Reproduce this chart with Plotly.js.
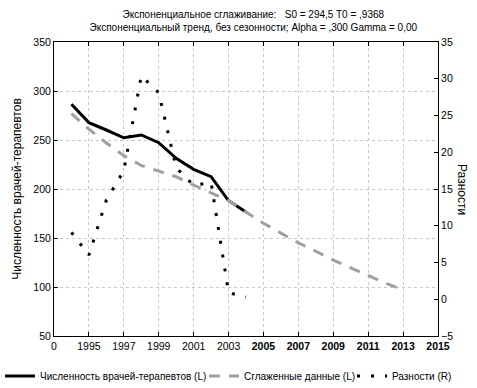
<!DOCTYPE html>
<html>
<head>
<meta charset="utf-8">
<script src="https://cdn.plot.ly/plotly-3.0.1.min.js"></script>
<style>html,body{margin:0;padding:0;background:#fff;}#chart{width:477px;height:388px;}</style>
</head>
<body>
<div id="chart"></div>
<script>
// Observed years and values
const obsYears = [1994, 1995, 1996, 1997, 1998, 1999, 2000, 2001, 2002, 2003, 2004];
const therapists = [286.4, 267.7, 260.2, 252.3, 255.1, 247.2, 231.3, 220.1, 212.6, 188.0, 176.5];
// Smoothed data (incl. forecast)
const smoothYears = [1994, 1995, 1996, 1997, 1998, 1999, 2000, 2001, 2002, 2003, 2004,
                     2005, 2006, 2007, 2008, 2009, 2010, 2011, 2012, 2013];
const smoothed = [277.0, 261.0, 247.0, 234.0, 224.0, 218.5, 212.5, 204.0, 196.0, 188.0, 176.5,
                  165.0, 155.0, 145.0, 136.5, 127.5, 119.5, 111.5, 104.0, 97.0];
// Residuals (right axis)
const residuals = [9.1, 6.0, 13.5, 17.5, 30.4, 28.1, 17.9, 15.5, 15.9, 0.9, 0.3];
// Tick labels
const xTickVals = [1993, 1995, 1997, 1999, 2001, 2003, 2005, 2007, 2009, 2011, 2013, 2015];
const xTickLabels = ['0', '1995', '1997', '1999', '2001', '2003', '2005', '2007', '2009', '2011', '2013', '2015'];
const boldLabels = ['2005', '2007', '2009', '2011', '2013', '2015'];

const FONT = '"Liberation Sans", Arial, sans-serif';

const traces = [
  {x: obsYears, y: therapists, type: 'scatter', mode: 'lines',
   name: 'Численность врачей-терапевтов (L)', legend: 'legend',
   line: {color: '#000000', width: 3}},
  {x: smoothYears, y: smoothed, type: 'scatter', mode: 'lines',
   name: 'Сглаженные данные (L)', legend: 'legend2',
   line: {color: '#a0a0a0', width: 3, dash: '11px,9px'}},
  {x: obsYears, y: residuals, type: 'scatter', mode: 'lines', yaxis: 'y2',
   name: 'Разности (R)', legend: 'legend3',
   line: {color: '#000000', width: 3, dash: '3px,11px'}}
];

function legendAt(px) {
  return {
    orientation: 'h', xref: 'container', yref: 'container',
    x: px / 477, xanchor: 'left', y: 12 / 388, yanchor: 'middle',
    font: {family: FONT, size: 10, color: '#000'},
    itemwidth: 30, bgcolor: 'rgba(0,0,0,0)'
  };
}

const layout = {
  width: 477, height: 388,
  margin: {l: 54, r: 39, t: 42, b: 52},
  paper_bgcolor: '#ffffff', plot_bgcolor: '#ffffff',
  font: {family: FONT, size: 10.5, color: '#000000'},
  showlegend: true,
  title: {
    text: 'Экспоненциальное сглаживание:   S0 = 294,5 T0 = ,9368<br>Экспоненциальный тренд, без сезонности; Alpha = ,300 Gamma = 0,00',
    x: 0.531, xanchor: 'center', y: 0.953, yanchor: 'top',
    font: {family: FONT, size: 10, color: '#000000'}
  },
  xaxis: {
    range: [1993, 2015], tickmode: 'array', tickvals: xTickVals,
    ticktext: xTickLabels.map(t => boldLabels.includes(t) ? '<b>' + t + '</b>' : t),
    ticks: 'inside', ticklen: 4, tickcolor: '#000', mirror: 'ticks',
    showline: true, linecolor: '#000', linewidth: 1,
    showgrid: true, gridcolor: '#c8c8c8', griddash: 'dot', gridwidth: 1,
    zeroline: false, tickfont: {family: FONT, size: 10.5, color: '#000'}
  },
  yaxis: {
    range: [50, 350], dtick: 50, tick0: 50,
    ticks: 'inside', ticklen: 4, tickcolor: '#000',
    showline: true, linecolor: '#000', linewidth: 1,
    showgrid: true, gridcolor: '#c8c8c8', griddash: 'dot', gridwidth: 1,
    zeroline: false, tickfont: {family: FONT, size: 10.5, color: '#000'},
    title: {text: 'Численность врачей-терапевтов', font: {family: FONT, size: 12, color: '#000'}, standoff: 9}
  },
  yaxis2: {
    range: [-5, 35], dtick: 5, tick0: -5, overlaying: 'y', side: 'right',
    ticks: 'inside', ticklen: 4, tickcolor: '#000',
    showline: true, linecolor: '#000', linewidth: 1,
    showgrid: false, zeroline: false,
    tickfont: {family: FONT, size: 10.5, color: '#000'}
  },
  legend: legendAt(0),
  legend2: legendAt(204),
  legend3: legendAt(352),
  annotations: [{
    text: 'Разности', xref: 'paper', yref: 'paper', x: 1.0625, y: 0.5,
    xanchor: 'center', yanchor: 'middle', textangle: 90, showarrow: false,
    font: {family: FONT, size: 12, color: '#000'}
  }]
};

Plotly.newPlot('chart', traces, layout, {displayModeBar: false, staticPlot: true});
</script>
</body>
</html>
